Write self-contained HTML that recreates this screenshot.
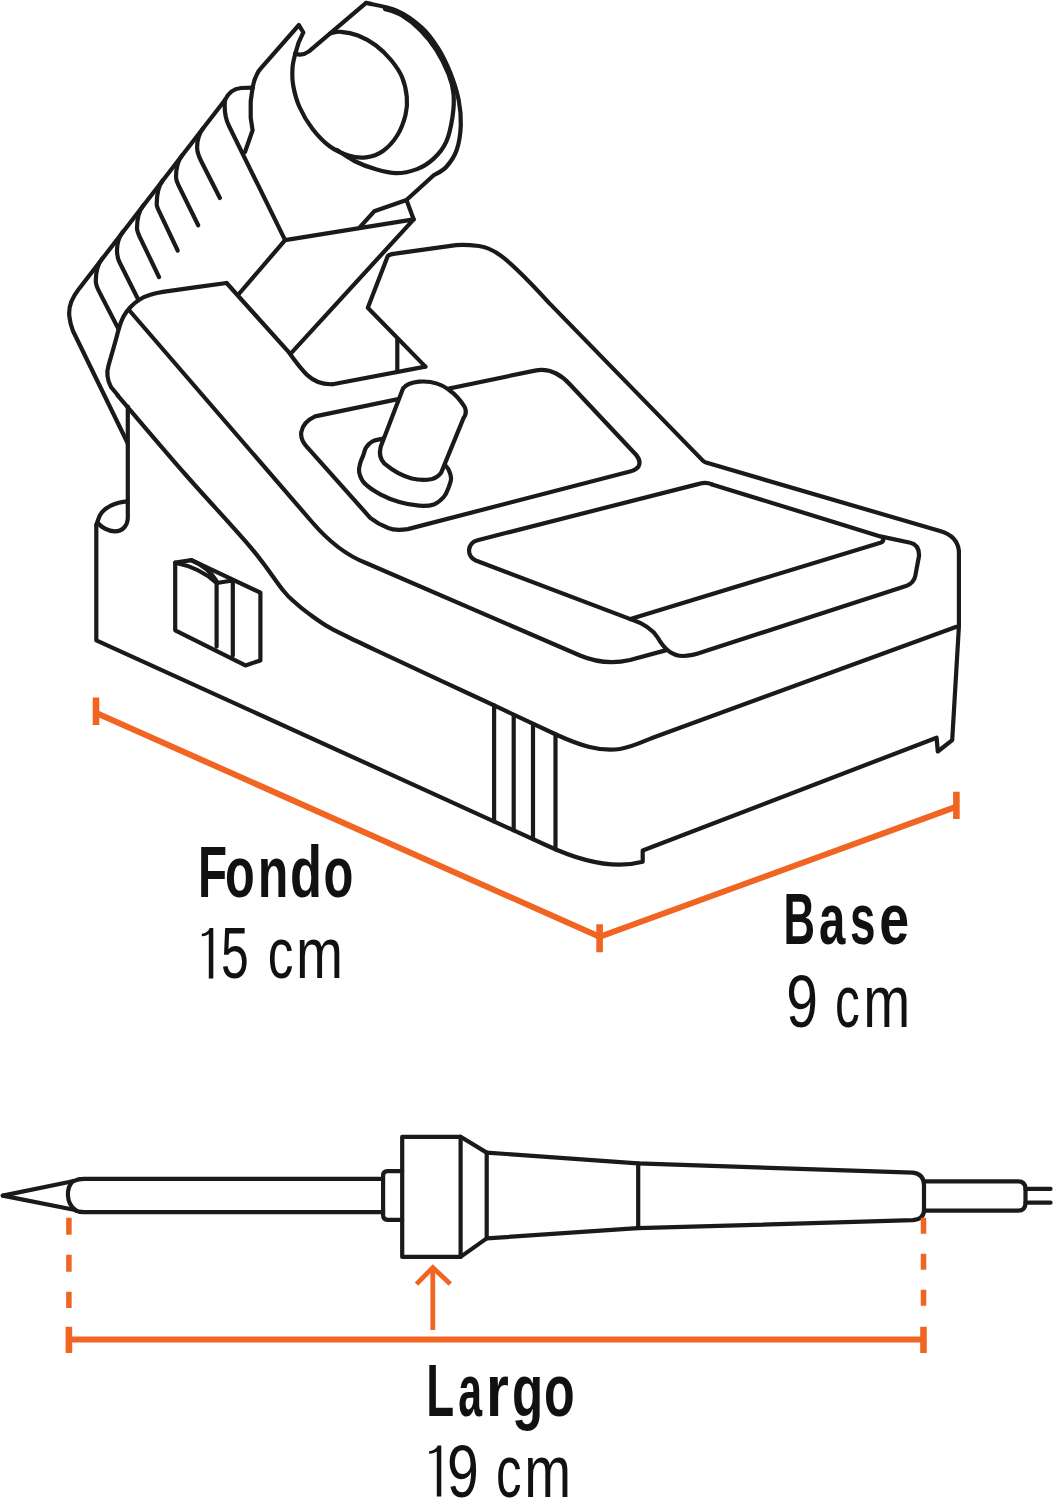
<!DOCTYPE html>
<html><head><meta charset="utf-8"><style>
html,body{margin:0;padding:0;background:#fff;}
svg{display:block;}
</style></head><body>
<svg width="1054" height="1500" viewBox="0 0 1054 1500">
<rect width="1054" height="1500" fill="#fff"/>
<g stroke="#1a1a1a" stroke-width="4.2" stroke-linecap="round" stroke-linejoin="round" fill="none">
<path d="M 96.3,525 L 96.3,640.3 L 548,846 Q 604,872 642.7,861.7 L 642.7,850.5 L 936.6,737.7 L 937.8,751.5 L 952.2,740.2 L 958.9,626.5 L 958.9,551 Q 957.5,536 940,531 L 706,462.6 Q 703.8,461.8 702.6,460.4 L 550,303.9 C 540,293 530,282 517,269.7 C 510,263 506,259.5 501.8,256.4 C 494,250.5 487,247 479,246 C 470,245 463,244.5 456,245.2 L 395,253.6 Q 390,254 387.8,256 L 367.8,307.8 L 425.4,366.6" fill="none"/>
<path d="M 117.6,395.3 C 128.8,408.4 162.9,448.8 185.0,474.0 C 207.1,499.2 233.6,527.2 250.0,546.6 C 266.4,566.0 275.4,581.0 283.2,590.5 C 290.9,600.0 292.1,599.8 296.5,603.8 C 300.9,607.8 304.3,610.4 309.8,614.4 C 315.3,618.4 321.9,623.3 329.7,627.7 C 337.4,632.1 346.2,636.1 356.3,641.0 C 366.4,645.9 370.2,647.6 390.0,656.9 C 409.8,666.1 447.3,683.6 475.0,696.5 C 502.7,709.4 542.5,728.2 556.0,734.5 C 580,745.5 600,752 620,749 C 632,747 642,742 652.7,737.7 L 956.5,626.8" fill="none"/>
<path d="M 129,310 L 312,522 C 330,543 348,556 366,563 L 580,655.5 Q 605,666 630,660 L 665.5,650.4" fill="none"/>
<path d="M 494.1,705.3 L 494.1,821.5" fill="none"/>
<path d="M 513.7,715.3 L 513.7,830.4" fill="none"/>
<path d="M 533.0,724.0 L 533.0,839.2" fill="none"/>
<path d="M 555.5,734.0 L 555.5,849.4" fill="none"/>
<path d="M 127.8,406.5 L 127.8,518 C 127.6,526 122,531.4 115,531.4 C 108,531.4 101,527 97.6,522.6" fill="none"/>
<path d="M 127.6,501.3 C 116,502 104,507 99.5,516 L 96.3,525" fill="none"/>
<path d="M 175.2,562.7 L 191.5,560.2 L 260.4,592.7 L 260.4,660.4 L 245.4,665.4 L 175.2,630.3 Z" fill="none"/>
<path d="M 175.2,562.7 C 192,566 206,573 216.6,583 L 216.6,646.6" fill="none"/>
<path d="M 191.5,560.2 C 203,565 211,572 216.6,581" fill="none"/>
<path d="M 216.6,583 L 232.8,580.5 L 232.8,655.4" fill="none"/>
<path d="M 315.1,416.4 L 535,370.6 C 548,368 560,373.5 570,384.5 L 635.8,454.5 Q 641.5,461 638.5,466.5 Q 636,470 630,471.5 L 407.8,529.1 Q 395,531 387.7,527.8 Q 378,524 370.2,517.8 L 307.6,447.7 Q 300,440 301.3,432 Q 303,422 315.1,416.4 Z" fill="none"/>
<path d="M 380.8,439.1 C 377.5,439.9 374.7,440.1 372.2,441.5 C 369.7,442.9 367.5,445.4 366.0,447.7 C 364.5,450.0 364.2,452.9 363.2,455.5 C 362.2,458.1 360.9,460.4 360.2,463.2 C 359.5,466.0 358.4,469.0 359.2,472.4 C 360.0,475.8 361.2,479.8 364.8,483.5 C 368.4,487.2 375.1,491.5 380.8,494.6 C 386.6,497.7 392.9,500.1 399.3,502.0 C 405.7,503.9 413.3,505.3 419.1,505.7 C 424.9,506.1 429.8,505.8 433.9,504.4 C 438.0,502.9 441.2,499.9 443.7,497.0 C 446.2,494.1 447.5,490.3 448.7,487.2 C 449.9,484.1 451.1,481.4 451.1,478.5 C 451.1,475.6 449.7,472.1 448.7,469.9 C 447.7,467.6 447.3,468.0 445.0,465.0 C 442.7,462.0 440.8,456.2 435.0,452.0 C 429.2,447.8 417.2,442.5 410.0,440.0 C 402.8,437.5 396.9,437.1 392.0,437.0 C 387.1,436.9 384.1,438.4 380.8,439.1 Z" fill="#fff"/>
<path d="M 380.8,446.5 L 403,388.5 C 406,384.5 410,382.5 419.1,381.7 C 428,381 440,383 448.7,389.7 C 455,394 461,401 464.7,407 C 466.5,411 466,415 463.5,418.1 L 441.3,472.4 C 439,476 436,478 432,479 C 425,480.5 418,480 411.7,478.5 C 402,476 392,470 384.5,463.7 C 380,459 379,453 380.8,446.5 Z" fill="#fff"/>
<path d="M 712,484.4 Q 706,481.8 700,483.6 L 477.6,540.2 Q 470,542 469,550 Q 469,557 475.1,560.2 L 630.4,619.1" fill="none"/>
<path d="M 630.4,619.1 C 645,624 653,630 658,638 C 663,647 670,656 683,656 C 690,656 697,654 704,651.5 L 906,586 Q 914,583 915.4,575.3 L 919,556 Q 919.5,545 910.4,542.7 L 880.4,536.4 L 712,484.4" fill="none"/>
<path d="M 630.4,619.1 L 880.4,542.7 Q 884,541.5 883,539" fill="none"/>
<path d="M 332.7,384.2 L 425.4,366.6" fill="none"/>
<path d="M 397.3,339 L 397.3,371.6" fill="none"/>
<path d="M 226.6,283 L 289.2,352.7 Q 300,368 307.6,375.4 Q 318,385 332.7,384.2" fill="none"/>
<path d="M 226.6,283.0 C 216.9,284.4 180.8,289.2 168.2,291.1 C 155.6,293.0 155.8,293.1 151.1,294.5 C 146.3,295.9 143.1,297.4 139.7,299.5 C 136.3,301.6 133.2,304.2 130.6,307.0 C 127.9,309.8 125.7,312.7 123.8,316.1 C 121.9,319.5 120.5,323.5 119.2,327.5 C 117.9,331.5 117.6,333.7 115.8,340.0 C 114.0,346.3 109.8,361.0 108.6,365.2 Q 105.2,376.5 111,387 L 118,395.5" fill="none"/>
<path d="M 238,295 L 285.1,240.1 L 413.7,219.4 L 291.4,352.8" fill="none"/>
<path d="M 225,100 L 78.5,289.5 C 71,299 68.5,308 69.3,316 C 70,323 71,326 73,331 L 127.6,443" fill="none"/>
<path d="M 203.3,128.0 Q 197.1,136.0 197.1,147.3 Q 197.1,153.1 201.1,161.0 L 219.9,198.0" fill="none"/>
<path d="M 182.2,155.2 Q 176.0,163.2 176.0,176.9 Q 176.0,180.2 178.3,184.9 L 198.2,225.3" fill="none"/>
<path d="M 162.9,180.1 Q 156.7,188.1 156.7,204.3 Q 156.7,206.3 159.0,211.1 L 177.7,250.5" fill="none"/>
<path d="M 143.2,205.5 Q 137.0,213.5 137.0,228.3 Q 137.0,231.2 139.7,236.8 L 159.0,277.0" fill="none"/>
<path d="M 123.2,231.4 Q 117.0,239.4 117.0,250.0 Q 117.0,257.2 119.4,262.0 L 138.2,299.5" fill="none"/>
<path d="M 102.0,258.7 Q 95.8,266.7 95.8,281.0 Q 95.8,285.1 98.9,291.1 L 118.5,329.0" fill="none"/>
<path d="M 225,100 Q 230,89 241,88 L 253,87.6" fill="none"/>
<path d="M 225,100 C 224,110 225,118 229,126 L 285.1,240.1" fill="none"/>
<path d="M 245,152 L 252.6,130.2 L 250.7,117.7 L 250.7,101.4 L 252.6,87.6 Q 255,74 262.6,66.3 L 298.9,25 L 303.3,32.5 Q 298,42 295.5,53" fill="none"/>
<path d="M 295.3,53.5 C 294.8,55.9 292.8,62.6 292.5,68.0 C 292.2,73.4 292.1,79.5 293.3,86.0 C 294.5,92.5 296.3,99.9 299.5,107.0 C 302.7,114.1 307.4,122.3 312.4,128.8 C 317.4,135.3 323.3,141.6 329.3,146.0 C 335.3,150.4 342.4,153.6 348.5,155.5 C 354.6,157.4 360.2,158.1 366.0,157.3 C 371.8,156.6 377.8,154.7 383.0,151.0 C 388.2,147.3 393.8,141.0 397.5,135.0 C 401.2,129.0 403.9,121.3 405.5,115.0 C 407.1,108.7 407.4,103.3 406.8,97.0 C 406.2,90.7 404.6,83.2 402.0,77.0 C 399.4,70.8 395.3,65.2 391.0,60.0 C 386.7,54.8 381.5,49.6 376.0,45.5 C 370.5,41.4 363.8,37.8 358.0,35.5 C 352.2,33.2 345.7,32.1 341.0,31.8 C 336.3,31.5 331.8,33.2 330.0,33.5" fill="none"/>
<path d="M 295.3,53.5 C 299.5,55.4 304,55 309,51.4 L 366.1,2.9" fill="none"/>
<path d="M 366.1,2.9 C 371.1,4.2 386.9,6.4 396.1,10.4 C 405.3,14.4 414.2,20.8 421.2,27.1 C 428.2,33.4 433.0,40.3 437.9,48.0 C 442.8,55.7 446.9,64.4 450.4,73.1 C 453.9,81.8 457.0,91.5 458.7,100.2 C 460.4,108.9 461.1,116.8 460.8,125.2 C 460.5,133.6 459.0,143.3 456.6,150.3 C 454.2,157.3 450.0,162.8 446.2,167.0 C 442.4,171.2 435.8,173.9 433.7,175.3 L 406.5,200 L 413.7,219.4" fill="none"/>
<path d="M 337.0,150.0 C 339.9,151.8 348.0,157.8 354.4,161.0 C 360.8,164.2 368.2,167.1 375.2,169.1 C 382.1,171.1 389.1,173.2 396.1,173.2 C 403.1,173.2 410.7,171.5 417.0,169.1 C 423.3,166.7 428.8,163.1 433.7,158.6 C 438.6,154.1 443.1,148.8 446.2,141.9 C 449.3,135.0 451.3,124.9 452.5,116.9 C 453.7,108.9 454.2,101.1 453.5,93.9 C 452.8,86.8 451.4,81.3 448.5,74.0 C 445.6,66.7 440.9,57.1 436.2,49.8 C 431.5,42.5 426.2,35.9 420.5,30.2 C 414.8,24.5 407.9,19.0 402.0,15.5 C 396.1,12.0 387.8,10.1 385.0,9.0" fill="none"/>
<path d="M 406.5,200 L 374.2,211.3 L 359.7,227.4" fill="none"/>
<path d="M 2.8,1195.6 L 74,1181 Q 78,1178.8 84,1178.8 L 383.1,1178.8" fill="none"/>
<path d="M 2.8,1195.6 L 74,1209.8 Q 78,1212.2 84,1212.2 L 383.1,1212.2" fill="none"/>
<path d="M 73,1181 C 66,1188 65.5,1203 76,1210.5" fill="none"/>
<path d="M 402.2,1171.2 L 387.6,1171.2 Q 383.1,1171.2 383.1,1175.7 L 383.1,1215.3 Q 383.1,1219.8 387.6,1219.8 L 402.2,1219.8" fill="none"/>
<path d="M 402.2,1136.8 L 460.6,1136.8 L 460.6,1256.9 L 402.2,1256.9 Z" fill="none"/>
<path d="M 460.6,1136.8 L 486.7,1152.6 L 486.7,1238.4 L 460.6,1256.9" fill="none"/>
<path d="M 486.7,1152.6 L 637.7,1163.4 L 912.7,1172.6 Q 924,1174 924,1185.2 L 924,1210.2 Q 924,1219 912.7,1220.2 L 637.7,1228.2 L 486.7,1238.4" fill="none"/>
<path d="M 638.2,1163.4 L 638.2,1228.2" fill="none"/>
<path d="M 924,1181.4 L 1018,1181.4 Q 1025.5,1181.4 1025.5,1189 L 1025.5,1203 Q 1025.5,1210.7 1018,1210.7 L 924,1210.7" fill="none"/>
<path d="M 1025.5,1188.9 L 1050.5,1188.9" fill="none"/>
<path d="M 1025.5,1202.7 L 1050.5,1202.7" fill="none"/>
</g>

<g stroke="#F06522" fill="none" stroke-width="6">
 <path d="M 96.3,713 L 599.6,936.8 L 956.6,806.6"/>
 <path d="M 96,697.6 L 96,725.1 M 599.6,924.2 L 599.6,952.2 M 956.4,791.8 L 956.4,819.1" stroke-width="6.6"/>
 <path d="M 68.9,1339.5 L 923.5,1339.5"/>
 <path d="M 68.9,1326.7 L 68.9,1353 M 923.5,1326.7 L 923.5,1353" stroke-width="6.6"/>
 <path d="M 68.9,1217.7 L 68.9,1308" stroke-dasharray="17 20" stroke-width="5.5"/>
 <path d="M 923.5,1217.7 L 923.5,1308" stroke-dasharray="16 20" stroke-width="5.5"/>
 <path d="M 432.8,1268 L 432.8,1330" stroke-width="4.8"/>
 <path d="M 416.5,1284.1 L 432.8,1267.5 L 450.3,1284.1" stroke-width="4.8"/>
</g>
<g font-family="Liberation Sans, sans-serif" fill="#111"><text transform="translate(198.00,896.90) scale(0.6562,1)" font-size="72.61" font-weight="bold">F</text>
<text transform="translate(224.95,896.90) scale(0.6704,1)" font-size="72.61" font-weight="bold">o</text>
<text transform="translate(257.74,896.90) scale(0.6900,1)" font-size="72.61" font-weight="bold">n</text>
<text transform="translate(290.10,896.90) scale(0.7227,1)" font-size="72.61" font-weight="bold">d</text>
<text transform="translate(323.55,896.90) scale(0.6730,1)" font-size="72.61" font-weight="bold">o</text>
<text transform="translate(221.10,978.40) scale(0.6872,1)" font-size="72.61">5</text>
<text transform="translate(267.79,978.40) scale(0.7078,1)" font-size="72.61">c</text>
<text transform="translate(296.03,978.40) scale(0.7772,1)" font-size="72.61">m</text>
<text transform="translate(783.57,944.20) scale(0.6006,1)" font-size="72.61" font-weight="bold">B</text>
<text transform="translate(819.08,944.20) scale(0.6522,1)" font-size="72.61" font-weight="bold">a</text>
<text transform="translate(850.10,944.20) scale(0.6312,1)" font-size="72.61" font-weight="bold">s</text>
<text transform="translate(879.15,944.20) scale(0.7403,1)" font-size="72.61" font-weight="bold">e</text>
<text transform="translate(786.14,1026.60) scale(0.7771,1)" font-size="73.33">9</text>
<text transform="translate(834.97,1026.60) scale(0.6755,1)" font-size="73.33">c</text>
<text transform="translate(863.13,1026.60) scale(0.7695,1)" font-size="73.33">m</text>
<text transform="translate(426.13,1415.70) scale(0.6186,1)" font-size="73.77" font-weight="bold">L</text>
<text transform="translate(458.22,1415.70) scale(0.5806,1)" font-size="73.77" font-weight="bold">a</text>
<text transform="translate(485.98,1415.70) scale(0.7959,1)" font-size="73.77" font-weight="bold">r</text>
<text transform="translate(512.06,1415.70) scale(0.6926,1)" font-size="73.77" font-weight="bold">g</text>
<text transform="translate(543.99,1415.70) scale(0.6804,1)" font-size="73.77" font-weight="bold">o</text>
<text transform="translate(447.03,1496.50) scale(0.7755,1)" font-size="73.77">9</text>
<text transform="translate(495.90,1496.50) scale(0.6936,1)" font-size="73.77">c</text>
<text transform="translate(524.14,1496.50) scale(0.7630,1)" font-size="73.77">m</text>
<path d="M 208.8,978.6 L 213.3,978.6 L 213.3,928.1 L 209.6,928.1 C 208.8,931.6 204.8,933.6 201.8,933.7 L 201.8,936.2 C 205.3,936.2 207.3,935.3 208.8,934.1 Z"/>
<path d="M 436.8,1496.5 L 441.3,1496.5 L 441.3,1445.6 L 437.6,1445.6 C 436.8,1449.1 432.1,1451.1 429.1,1451.2 L 429.1,1453.7 C 432.6,1453.7 435.3,1452.8 436.8,1451.6 Z"/></g>
</svg>
</body></html>
